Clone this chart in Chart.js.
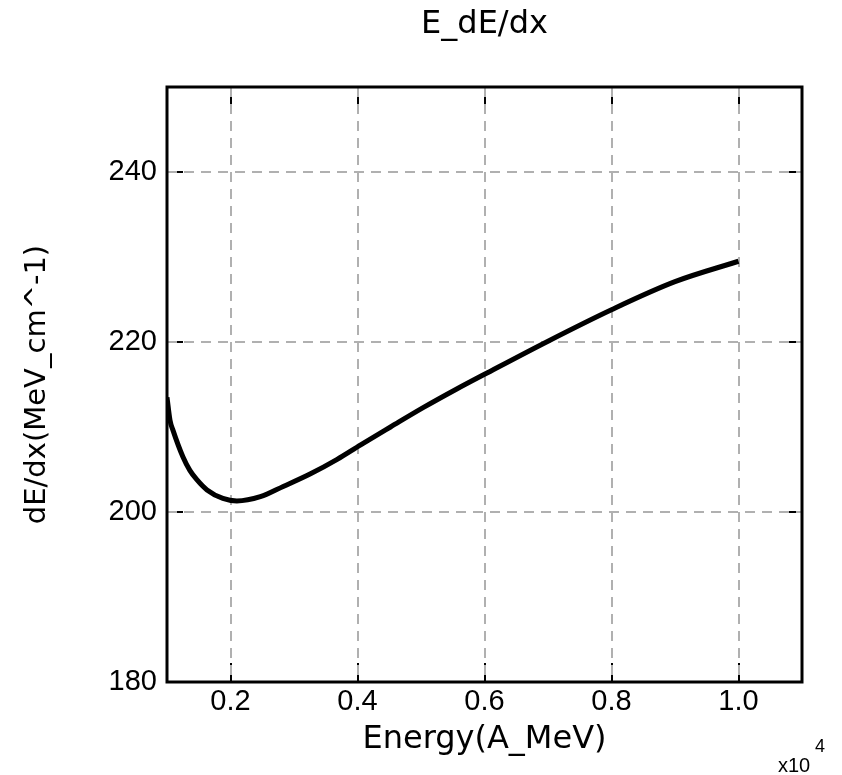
<!DOCTYPE html>
<html>
<head>
<meta charset="utf-8">
<title>E_dE/dx</title>
<script src="https://cdn.jsdelivr.net/npm/chart.js@4"></script>
<style>
  html, body { margin: 0; padding: 0; background: #fff; }
  #wrap { width: 842px; height: 775px; }
</style>
</head>
<body>
<div id="wrap"><canvas id="dedx-chart" width="842" height="775"></canvas></div>
<script>
// energy in MeV (axis shows x10^4), stopping power in MeV/cm
const energy = [1000, 1047, 1095, 1250, 1360, 1470, 1630, 1880, 2100, 2470, 2830,
  3260, 3680, 4050, 4520, 5040, 5570, 6000, 7000, 8000, 9000, 10000];
const dEdx = [213.5, 210.8, 209.6, 206.5, 204.9, 203.8, 202.6, 201.6, 201.3, 201.8, 203.0,
  204.5, 206.2, 207.9, 210.0, 212.3, 214.5, 216.2, 220.1, 223.8, 227.1, 229.5];

const xTicks = [2000, 4000, 6000, 8000, 10000];
const yTicks = [180, 200, 220, 240];

const ctx = document.getElementById("dedx-chart").getContext("2d");

// frame, inner tick marks and the x10^4 multiplier
const framePlugin = {
  id: "frame",
  beforeDraw(chart) {
    const { ctx, chartArea: a, scales } = chart;
    ctx.save();
    ctx.fillStyle = "#fff";
    ctx.fillRect(0, 0, chart.width, chart.height);
    ctx.strokeStyle = "#000";
    ctx.lineWidth = 2;
    ctx.beginPath();
    xTicks.forEach((v) => {
      const px = Math.round(scales.x.getPixelForValue(v));
      ctx.moveTo(px, a.bottom); ctx.lineTo(px, a.bottom - 19);
      ctx.moveTo(px, a.top); ctx.lineTo(px, a.top + 19);
    });
    yTicks.forEach((v) => {
      const py = Math.round(scales.y.getPixelForValue(v));
      ctx.moveTo(a.left, py); ctx.lineTo(a.left + 16, py);
      ctx.moveTo(a.right, py); ctx.lineTo(a.right - 16, py);
    });
    ctx.stroke();
    ctx.restore();
  },
  afterDatasetsDraw(chart) {
    const { ctx, chartArea: a } = chart;
    ctx.save();
    ctx.strokeStyle = "#000";
    ctx.lineWidth = 3;
    ctx.strokeRect(a.left, a.top, a.right - a.left, a.bottom - a.top);
    ctx.fillStyle = "#000";
    ctx.textBaseline = "alphabetic";
    ctx.font = "20px 'Liberation Sans', Arial, sans-serif";
    ctx.fillText("x10", 778, 772);
    ctx.font = "18px 'Liberation Sans', Arial, sans-serif";
    ctx.fillText("4", 815, 752);
    ctx.restore();
  },
};

const chart = new Chart(ctx, {
  type: "line",
  data: {
    datasets: [
      {
        label: "dE/dx",
        data: energy.map((e, i) => ({ x: e, y: dEdx[i] })),
        borderColor: "#000",
        borderWidth: 5,
        pointRadius: 0,
        cubicInterpolationMode: "monotone",
        fill: false,
      },
    ],
  },
  options: {
    responsive: false,
    animation: false,
    layout: { padding: { left: 0, right: 40, top: 0, bottom: 0 } },
    plugins: {
      legend: { display: false },
      tooltip: { enabled: false },
      title: {
        display: true,
        fullSize: false,
        text: "E_dE/dx",
        color: "#000",
        font: { family: "'DejaVu Sans', sans-serif", size: 32, weight: "normal" },
        padding: { top: 5, bottom: 43.6 },
      },
    },
    scales: {
      x: {
        type: "linear",
        min: 1000,
        max: 11000,
        afterBuildTicks: (s) => { s.ticks = xTicks.map((v) => ({ value: v })); },
        afterFit: (s) => { s.height = 93; },
        grid: { color: "#b0b0b0", lineWidth: 2, drawTicks: false },
        border: { display: false, dash: [10, 7] },
        ticks: {
          color: "#000",
          padding: 3,
          maxRotation: 0,
          font: { family: "'Liberation Sans', Arial, sans-serif", size: 29 },
          callback: (v) => (v / 10000).toFixed(1),
        },
        title: {
          display: true,
          text: "Energy(A_MeV)",
          color: "#000",
          font: { family: "'DejaVu Sans', sans-serif", size: 32 },
          padding: { top: 0, bottom: 16 },
        },
      },
      y: {
        min: 180,
        max: 250,
        afterBuildTicks: (s) => { s.ticks = yTicks.map((v) => ({ value: v })); },
        afterFit: (s) => { s.width = 167; },
        grid: { color: "#b0b0b0", lineWidth: 2, drawTicks: false },
        border: { display: false, dash: [10, 7] },
        ticks: {
          color: "#000",
          padding: 10,
          font: { family: "'Liberation Sans', Arial, sans-serif", size: 29 },
        },
        title: {
          display: true,
          text: "dE/dx(MeV_cm^-1)",
          color: "#000",
          font: { family: "'DejaVu Sans', sans-serif", size: 29 },
          padding: { top: 20, bottom: 0 },
        },
      },
    },
  },
  plugins: [framePlugin],
});
</script>
</body>
</html>
